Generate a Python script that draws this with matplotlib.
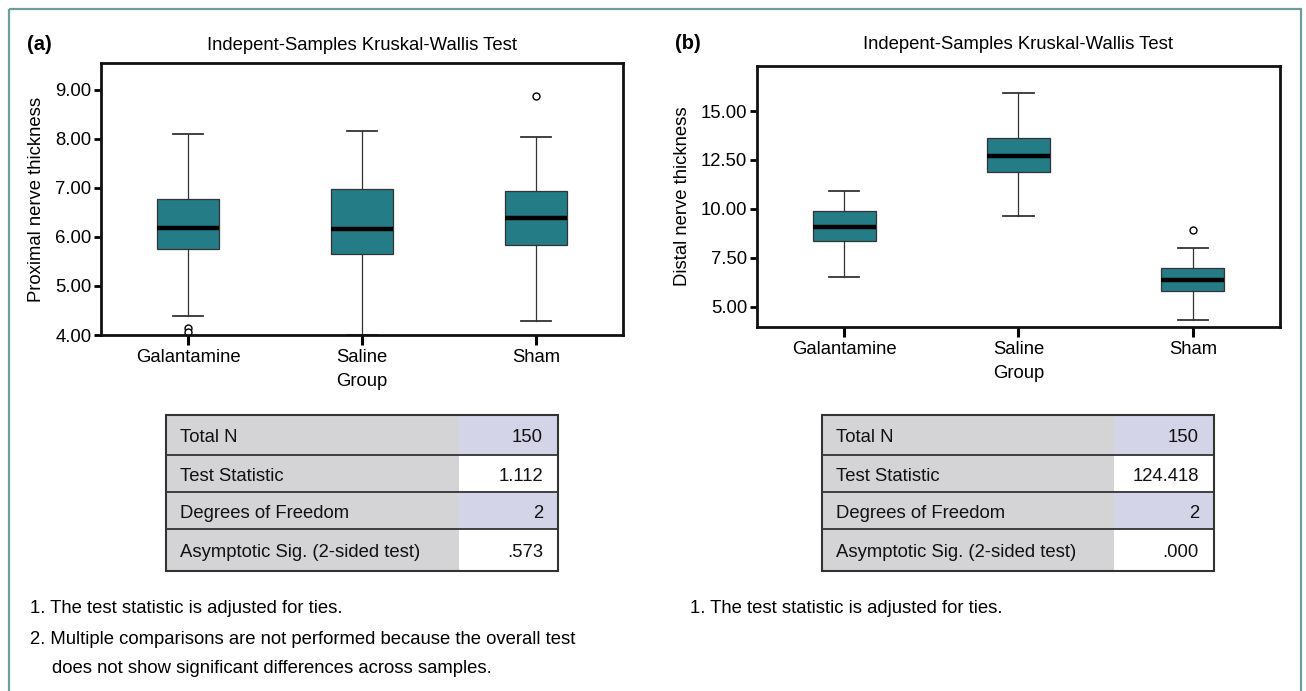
import matplotlib
matplotlib.use("Agg")
import matplotlib.pyplot as plt
from matplotlib.patches import Rectangle

plt.rcParams['font.family'] = ['Liberation Sans', 'DejaVu Sans']

groups = ["Galantamine", "Saline", "Sham"]

# (a) proximal nerve thickness, box stats
prox_low = [4.39, 4.00, 4.29]
prox_q1 = [5.75, 5.65, 5.84]
prox_med = [6.18, 6.16, 6.38]
prox_q3 = [6.78, 6.97, 6.93]
prox_high = [8.10, 8.16, 8.03]
prox_out = [[4.15, 4.06], [], [8.87]]
prox_ticks = [4, 5, 6, 7, 8, 9]

# (b) distal nerve thickness
dist_low = [6.52, 9.61, 4.33]
dist_q1 = [8.37, 11.86, 5.80]
dist_med = [9.05, 12.70, 6.36]
dist_q3 = [9.90, 13.60, 6.96]
dist_high = [10.90, 15.92, 8.00]
dist_out = [[], [], [8.90]]
dist_ticks = [5, 7.5, 10, 12.5, 15]

table_labels = ["Total N", "Test Statistic", "Degrees of Freedom",
                "Asymptotic Sig. (2-sided test)"]
prox_table = ["150", "1.112", "2", ".573"]
dist_table = ["150", "124.418", "2", ".000"]

prox_notes = ["1. The test statistic is adjusted for ties.",
              "2. Multiple comparisons are not performed because the overall test",
              "does not show significant differences across samples."]
dist_notes = ["1. The test statistic is adjusted for ties."]

title = "Indepent-Samples Kruskal-Wallis Test"

W, H = 1306, 691
FS = 13.3
teal = "#237c86"
edge = "#333333"

fig = plt.figure(figsize=(W / 100, H / 100), dpi=100)

bg = fig.add_axes([0, 0, 1, 1], zorder=0)
bg.set_xlim(0, W)
bg.set_ylim(H, 0)
bg.axis("off")
bg.add_patch(Rectangle((9, 9), 1292, 700, fill=False, edgecolor="#6f9c9e", lw=1.6))


def px_axes(l, t, r, b):
    return fig.add_axes([l / W, 1 - b / H, (r - l) / W, (b - t) / H], zorder=2)


def draw_panel(ax, low, q1, med, q3, high, out, ticks, ylim, ylabel):
    stats = []
    for i in range(len(groups)):
        stats.append(dict(whislo=low[i], q1=q1[i], med=med[i], q3=q3[i],
                          whishi=high[i], fliers=out[i]))
    ax.bxp(stats, positions=range(len(groups)), widths=0.36, capwidths=0.175,
           patch_artist=True,
           boxprops=dict(facecolor=teal, edgecolor=edge, linewidth=0.9),
           medianprops=dict(color="black", linewidth=3.2),
           whiskerprops=dict(color=edge, linewidth=0.9),
           capprops=dict(color=edge, linewidth=1.3),
           flierprops=dict(marker="o", markersize=5, markerfacecolor="white",
                           markeredgecolor="black", markeredgewidth=1.0))
    ax.set_xlim(-0.5, 2.5)
    ax.set_ylim(*ylim)
    ax.set_yticks(ticks)
    ax.set_yticklabels(["%.2f" % t for t in ticks])
    ax.set_xticks(range(len(groups)))
    ax.set_xticklabels(groups)
    for s in ax.spines.values():
        s.set_linewidth(2.0)
        s.set_color("#111111")
    ax.tick_params(axis="y", direction="out", length=5, width=2, labelsize=FS, pad=2)
    ax.tick_params(axis="x", direction="out", length=7, width=2.2, labelsize=FS, pad=3)
    ax.set_ylabel(ylabel, fontsize=FS, labelpad=7)
    ax.set_xlabel("Group", fontsize=FS, labelpad=5)


def draw_table(x0, xs, x1, rows, labels, values):
    for i in range(len(labels)):
        t, b = rows[i], rows[i + 1]
        bg.add_patch(Rectangle((x0, t), xs - x0, b - t, facecolor="#d4d4d6", edgecolor="none"))
        vc = "#d4d4e8" if i % 2 == 0 else "white"
        bg.add_patch(Rectangle((xs, t), x1 - xs, b - t, facecolor=vc, edgecolor="none"))
        mid = (t + b) / 2 + 7
        bg.text(x0 + 14, mid, labels[i], fontsize=FS, va="baseline", ha="left", color="#111111")
        bg.text(x1 - 15, mid, values[i], fontsize=FS, va="baseline", ha="right", color="#111111")
    for y in rows[1:-1]:
        bg.plot([x0, x1], [y, y], color="#333333", lw=1.3)
    bg.add_patch(Rectangle((x0, rows[0]), x1 - x0, rows[-1] - rows[0], fill=False,
                           edgecolor="#333333", lw=1.5))


rows = [415, 455, 492, 529, 571]

ax1 = px_axes(101, 63, 623, 335)
draw_panel(ax1, prox_low, prox_q1, prox_med, prox_q3, prox_high, prox_out,
           prox_ticks, (4.0, 9.55), "Proximal nerve thickness")
bg.text(27, 50, "(a)", fontsize=14.5, fontweight="bold", va="baseline")
bg.text(362, 49.5, title, fontsize=FS, ha="center", va="baseline")
draw_table(166, 459, 558, rows, table_labels, prox_table)
bg.text(30, 613, prox_notes[0], fontsize=FS, va="baseline")
bg.text(30, 644, prox_notes[1], fontsize=FS, va="baseline")
bg.text(52, 673, prox_notes[2], fontsize=FS, va="baseline")

ax2 = px_axes(757, 66, 1280, 327)
draw_panel(ax2, dist_low, dist_q1, dist_med, dist_q3, dist_high, dist_out,
           dist_ticks, (3.96, 17.3), "Distal nerve thickness")
bg.text(675, 49, "(b)", fontsize=14.5, fontweight="bold", va="baseline")
bg.text(1018, 48.5, title, fontsize=FS, ha="center", va="baseline")
draw_table(822, 1114, 1214, rows, table_labels, dist_table)
bg.text(690, 613, dist_notes[0], fontsize=FS, va="baseline")

fig.savefig("out.png", dpi=100)
